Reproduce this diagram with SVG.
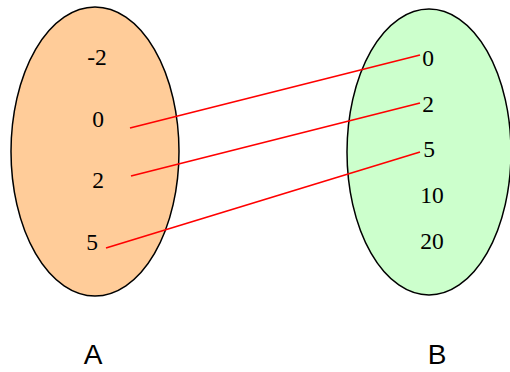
<svg xmlns="http://www.w3.org/2000/svg" width="510" height="372" viewBox="0 0 510 372">
<style>
.set{stroke:#000;stroke-width:1.5}
.n{font-family:"Liberation Serif",serif;font-size:23.5px;fill:#000;text-anchor:middle}
.lbl{font-family:"Liberation Sans",sans-serif;font-size:28px;fill:#000;text-anchor:middle}
.c{stroke:#ff0000;stroke-width:1.8;fill:none}
</style>
<rect width="510" height="372" fill="#fff"/>
<g id="setA">
<ellipse class="set" cx="95" cy="151.5" rx="84" ry="144.5" fill="#ffcc99"/>
<text class="n" x="97" y="65">-2</text>
<text class="n" x="98" y="127">0</text>
<text class="n" x="98" y="188">2</text>
<text class="n" x="92" y="250">5</text>
</g>
<g id="setB">
<ellipse class="set" cx="429" cy="152" rx="82" ry="143" fill="#ccffcc"/>
<text class="n" x="428" y="66">0</text>
<text class="n" x="428" y="112">2</text>
<text class="n" x="429" y="157">5</text>
<text class="n" x="432" y="203">10</text>
<text class="n" x="432" y="249">20</text>
</g>
<g id="connectors">
<line class="c" x1="130" y1="128" x2="420" y2="55"/>
<line class="c" x1="131" y1="176" x2="420" y2="103"/>
<line class="c" x1="106" y1="248" x2="420" y2="152"/>
</g>
<g id="labelA"><text class="lbl" x="93" y="364">A</text></g>
<g id="labelB"><text class="lbl" x="437" y="364">B</text></g>
</svg>
